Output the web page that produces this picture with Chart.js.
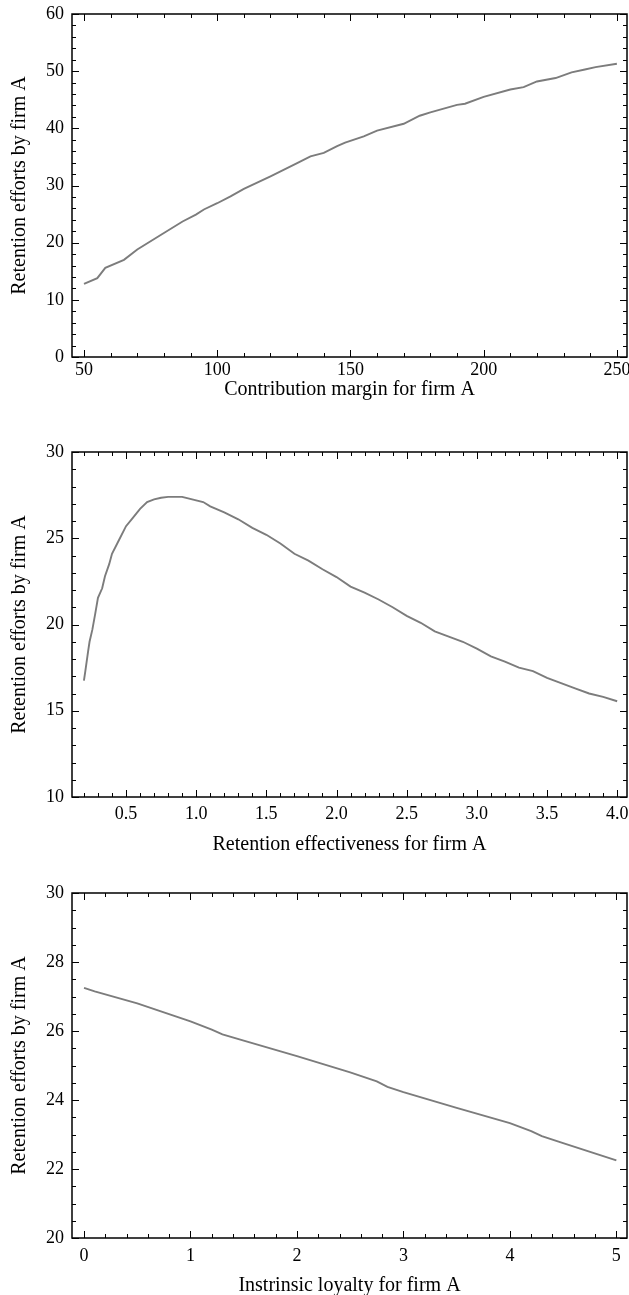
<!DOCTYPE html>
<html lang="en">

<head>
    <title>Retention efforts</title>
    <meta charset="utf-8">
    <script src="https://cdn.jsdelivr.net/npm/chart.js@4.4.1/dist/chart.umd.min.js"></script>
    <style>
        body { margin: 0; width: 629px; height: 1295px; overflow: hidden; background: #fff; position: relative; }
        .box { position: absolute; left: 0; width: 629px; }
    </style>
</head>

<body>
    <div class="box" style="top:0px;height:405px"><canvas id="c1"></canvas></div>
    <div class="box" style="top:420px;height:438px"><canvas id="c2"></canvas></div>
    <div class="box" style="top:860px;height:445px"><canvas id="c3"></canvas></div>
    <script>
        // chart 1: contribution margin
        var marginX = [50, 55, 58, 65, 70, 80, 87, 92, 95, 100, 105, 110, 120, 130, 135, 140, 145, 148, 155, 160,
            170, 176, 180, 190, 193, 200, 210, 215, 220, 227, 233, 238, 242, 250];
        var marginY = [12.8, 13.8, 15.6, 17.0, 18.8, 21.7, 23.7, 24.9, 25.8, 26.9, 28.1, 29.4, 31.6, 33.9, 35.1, 35.7, 36.9, 37.5, 38.6, 39.6,
            40.8, 42.2, 42.8, 44.1, 44.3, 45.5, 46.8, 47.2, 48.2, 48.8, 49.8, 50.3, 50.7, 51.3];
        var marginTicks = [50, 100, 150, 200, 250];
        var marginYTicks = [0, 10, 20, 30, 40, 50, 60];

        // chart 2: retention effectiveness
        var effectX = [0.2, 0.21, 0.23, 0.24, 0.26, 0.28, 0.30, 0.33, 0.35, 0.38, 0.40, 0.45, 0.50, 0.55, 0.60, 0.65, 0.70, 0.75, 0.80, 0.90,
            0.95, 1.00, 1.05, 1.10, 1.20, 1.30, 1.40, 1.50, 1.60, 1.70, 1.80, 1.90, 2.00, 2.10, 2.20, 2.30, 2.40, 2.50,
            2.60, 2.70, 2.80, 2.90, 3.00, 3.10, 3.20, 3.30, 3.40, 3.50, 3.60, 3.70, 3.80, 3.90, 4.00];
        var effectY = [16.75, 17.3, 18.45, 19.0, 19.7, 20.6, 21.55, 22.1, 22.8, 23.5, 24.1, 24.9, 25.7, 26.2, 26.7, 27.1, 27.25, 27.35, 27.4, 27.4,
            27.3, 27.2, 27.1, 26.85, 26.5, 26.1, 25.6, 25.2, 24.7, 24.1, 23.7, 23.2, 22.75, 22.2, 21.85, 21.45, 21.0, 20.5,
            20.1, 19.6, 19.3, 19.0, 18.6, 18.15, 17.85, 17.5, 17.3, 16.9, 16.6, 16.3, 16.0, 15.8, 15.55];
        var effectTicks = [0.5, 1.0, 1.5, 2.0, 2.5, 3.0, 3.5, 4.0];
        var effectYTicks = [10, 15, 20, 25, 30];

        // chart 3: intrinsic loyalty
        var loyaltyX = [0, 0.1, 0.5, 1.0, 1.2, 1.3, 1.5, 2.0, 2.5, 2.75, 2.85, 3.0, 3.5, 4.0, 4.2, 4.3, 4.5, 5.0];
        var loyaltyY = [27.25, 27.15, 26.8, 26.28, 26.04, 25.9, 25.72, 25.27, 24.8, 24.54, 24.38, 24.23, 23.77, 23.33, 23.1, 22.95, 22.75, 22.25];
        var loyaltyTicks = [0, 1, 2, 3, 4, 5];
        var loyaltyYTicks = [20, 22, 24, 26, 28, 30];

        var yTitle = 'Retention efforts by firm A';
        var serif = '"Liberation Serif", "Times New Roman", serif';

        // box around the plot with inward major/minor ticks on all four sides
        var frameTicks = {
            id: 'frameTicks',
            afterDraw: function (chart) {
                var ctx = chart.ctx, a = chart.chartArea;
                var fx = chart.options.plugins.frameTicks;
                ctx.save();
                ctx.strokeStyle = '#000';
                ctx.lineWidth = 1;
                function marks(scale, step, len) {
                    var v = Math.ceil(scale.min / step - 1e-9) * step;
                    for (; v <= scale.max + 1e-9; v += step) {
                        var p = Math.round(scale.getPixelForValue(v)) + 0.5;
                        ctx.beginPath();
                        if (scale.axis === 'x') {
                            ctx.moveTo(p, a.bottom); ctx.lineTo(p, a.bottom - len);
                            ctx.moveTo(p, a.top); ctx.lineTo(p, a.top + len);
                        } else {
                            ctx.moveTo(a.left, p); ctx.lineTo(a.left + len, p);
                            ctx.moveTo(a.right, p); ctx.lineTo(a.right - len, p);
                        }
                        ctx.stroke();
                    }
                }
                marks(chart.scales.x, fx.xMinor, 4);
                marks(chart.scales.x, fx.xMajor, 7);
                marks(chart.scales.y, fx.yMinor, 4);
                marks(chart.scales.y, fx.yMajor, 7);
                ctx.lineWidth = 1.5;
                ctx.strokeRect(a.left, a.top, a.right - a.left, a.bottom - a.top);
                ctx.restore();
            }
        };

        function makeChart(id, xs, ys, o) {
            var pts = [];
            for (var i = 0; i < xs.length; i++) pts.push({ x: xs[i], y: ys[i] });
            return new Chart(document.getElementById(id), {
                type: 'line',
                data: {
                    datasets: [{
                        data: pts,
                        borderColor: '#7c7c7c',
                        borderWidth: 1.9,
                        pointRadius: 0,
                        tension: 0
                    }]
                },
                options: {
                    responsive: true,
                    maintainAspectRatio: false,
                    animation: false,
                    layout: { padding: { top: o.top, right: 2, left: 0, bottom: 0 } },
                    plugins: {
                        legend: { display: false },
                        tooltip: { enabled: false },
                        frameTicks: { xMajor: o.xMajor, xMinor: o.xMinor, yMajor: o.yMajor, yMinor: o.yMinor }
                    },
                    scales: {
                        x: {
                            type: 'linear',
                            min: o.xMin,
                            max: o.xMax,
                            grid: { display: false, drawTicks: false },
                            border: { display: false },
                            ticks: {
                                color: '#000',
                                font: { family: serif, size: 18 },
                                padding: o.tickPad,
                                maxRotation: 0,
                                callback: o.xFmt
                            },
                            title: {
                                display: true,
                                text: o.xTitle,
                                color: '#000',
                                font: { family: serif, size: 20 },
                                padding: { top: 0, bottom: o.titlePad }
                            },
                            afterBuildTicks: function (s) { s.ticks = o.xTicks.map(function (v) { return { value: v }; }); },
                            afterFit: function (s) { s.height = o.xHeight; s.paddingLeft = 0; s.paddingRight = 0; }
                        },
                        y: {
                            min: o.yTicks[0],
                            max: o.yTicks[o.yTicks.length - 1],
                            grid: { display: false, drawTicks: false },
                            border: { display: false },
                            ticks: {
                                color: '#000',
                                font: { family: serif, size: 18 },
                                padding: 8
                            },
                            title: {
                                display: true,
                                text: yTitle,
                                color: '#000',
                                font: { family: serif, size: 20 },
                                padding: { top: 8, bottom: 0 }
                            },
                            afterBuildTicks: function (s) { s.ticks = o.yTicks.map(function (v) { return { value: v }; }); },
                            afterFit: function (s) { s.width = 72; s.paddingTop = 0; s.paddingBottom = 0; }
                        }
                    }
                },
                plugins: [frameTicks]
            });
        }

        makeChart('c1', marginX, marginY, {
            top: 14, xHeight: 48, titlePad: 3, tickPad: 2,
            xMin: 45.5, xMax: 253.8, xTicks: marginTicks, yTicks: marginYTicks,
            xMajor: 50, xMinor: 10, yMajor: 10, yMinor: 2,
            xTitle: 'Contribution margin for firm A'
        });
        makeChart('c2', effectX, effectY, {
            top: 32, xHeight: 61, titlePad: 1, tickPad: 6,
            xMin: 0.115, xMax: 4.07, xTicks: effectTicks, yTicks: effectYTicks,
            xMajor: 0.5, xMinor: 0.1, yMajor: 5, yMinor: 1,
            xFmt: function (v) { return v.toFixed(1); },
            xTitle: 'Retention effectiveness for firm A'
        });
        makeChart('c3', loyaltyX, loyaltyY, {
            top: 33, xHeight: 67, titlePad: 7, tickPad: 7,
            xMin: -0.113, xMax: 5.1, xTicks: loyaltyTicks, yTicks: loyaltyYTicks,
            xMajor: 1, xMinor: 0.2, yMajor: 2, yMinor: 0.5,
            xTitle: 'Instrinsic loyalty for firm A'
        });
    </script>
</body>

</html>
